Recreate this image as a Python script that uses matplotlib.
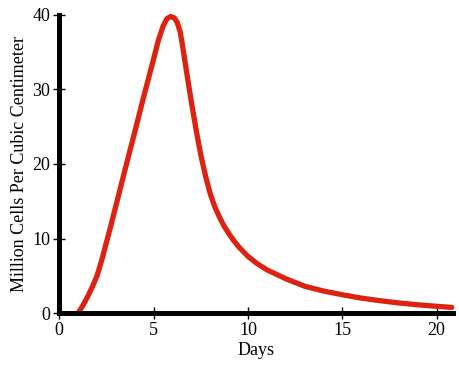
import matplotlib
matplotlib.use("Agg")
import matplotlib.pyplot as plt

days = [1.0, 1.25, 1.5, 1.75, 2.0, 2.25, 2.5, 2.75, 3.0, 3.5, 4.0, 4.5, 5.0,
        5.25, 5.5, 5.7, 5.9, 6.1, 6.25, 6.4, 6.5, 6.75, 7.0, 7.25, 7.5, 7.75,
        8.0, 8.25, 8.5, 8.75, 9.0, 9.25, 9.5, 10.0, 10.5, 11.0, 12.0, 13.0,
        14.0, 15.0, 16.0, 17.0, 18.0, 19.0, 20.0, 20.8]
cells = [0.0, 1.0, 2.2, 3.5, 5.0, 7.1, 9.5, 11.9, 14.4, 19.4, 24.3, 29.3, 34.1,
         36.6, 38.5, 39.5, 39.8, 39.6, 39.0, 37.8, 36.4, 32.3, 28.3, 24.6, 21.2, 18.4,
         16.0, 14.2, 12.8, 11.6, 10.6, 9.7, 8.9, 7.6, 6.6, 5.8, 4.6, 3.6,
         2.95, 2.45, 2.0, 1.65, 1.35, 1.1, 0.9, 0.75]
xticks = [0, 5, 10, 15, 20]
yticks = [0, 10, 20, 30, 40]

plt.rcParams['font.family'] = ['Liberation Serif', 'DejaVu Serif']

fig = plt.figure(figsize=(4.6, 3.68), dpi=100)
ax = fig.add_axes([59.3/460, 55/368, (452.7-59.3)/460, 298/368])
ax.plot(days, cells, color='#dd2211', linewidth=3.8, solid_capstyle='round',
        solid_joinstyle='round', clip_on=False, zorder=3)
ax.set_xlim(0, 20.85)
ax.set_ylim(0, 40)
ax.set_xticks(xticks)
ax.set_yticks(yticks)
for s in ['top', 'right']:
    ax.spines[s].set_visible(False)
for s in ['left', 'bottom']:
    ax.spines[s].set_linewidth(3.6)
    ax.spines[s].set_color('black')
    ax.spines[s].set_zorder(4)
ax.tick_params(direction='inout', length=9, width=1, labelsize=13, pad=2)
ax.set_xlabel('Days', fontsize=13, labelpad=2)
ax.set_ylabel('Million Cells Per Cubic Centimeter', fontsize=13, labelpad=3)
fig.savefig('out.png', dpi=100)
